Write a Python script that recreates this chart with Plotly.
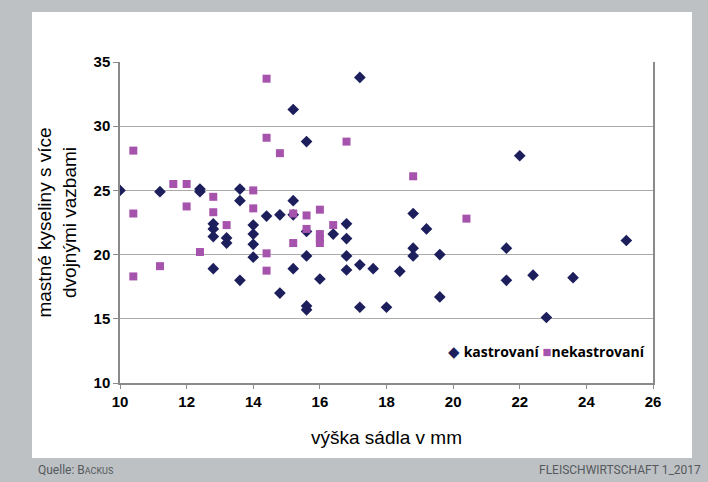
import plotly.graph_objects as go

# kastrovaní (dark diamonds)
kast_x = [10.0, 11.2, 12.4, 12.4, 12.8, 12.8, 12.8, 12.8, 13.2, 13.2, 13.6, 13.6, 13.6,
          14.0, 14.0, 14.0, 14.0, 14.4, 14.8, 14.8, 15.2, 15.2, 15.2, 15.2, 15.6, 15.6,
          15.6, 15.6, 15.6, 16.0, 16.4, 16.8, 16.8, 16.8, 16.8, 17.2, 17.2, 17.2, 17.6,
          18.0, 18.4, 18.8, 18.8, 18.8, 19.2, 19.6, 19.6, 21.6, 21.6, 22.0, 22.4, 22.8,
          23.6, 25.2]
kast_y = [25.0, 24.9, 25.1, 24.9, 22.4, 22.0, 21.4, 18.9, 21.3, 20.9, 25.1, 24.2, 18.0,
          22.3, 21.6, 20.8, 19.8, 23.0, 23.1, 17.0, 31.3, 24.2, 23.1, 18.9, 28.8, 21.8,
          19.9, 16.0, 15.7, 18.1, 21.6, 22.4, 21.25, 19.9, 18.8, 33.8, 19.2, 15.9, 18.9,
          15.9, 18.7, 23.2, 20.5, 19.9, 22.0, 20.0, 16.7, 20.5, 18.0, 27.7, 18.4, 15.1,
          18.2, 21.1]

# nekastrovaní (purple squares)
nek_x = [10.4, 10.4, 10.4, 11.2, 11.6, 12.0, 12.0, 12.4, 12.8, 12.8, 13.2, 14.0, 14.0,
         14.4, 14.4, 14.4, 14.4, 14.8, 15.2, 15.2, 15.6, 15.6, 16.0, 16.0, 16.0, 16.0,
         16.4, 16.8, 18.8, 20.4]
nek_y = [28.1, 23.2, 18.3, 19.1, 25.5, 25.5, 23.75, 20.2, 24.5, 23.3, 22.3, 25.0, 23.6,
         33.7, 29.1, 20.1, 18.75, 27.9, 23.2, 20.9, 23.05, 22.0, 23.5, 21.6, 21.25, 20.9,
         22.3, 28.8, 26.1, 22.8]

series_names = ["kastrovaní", "nekastrovaní"]
x_ticks = [10, 12, 14, 16, 18, 20, 22, 24, 26]
y_ticks = [10, 15, 20, 25, 30, 35]

DARK = "#1d1f5c"
PURPLE = "#a653ad"

fig = go.Figure()
fig.add_trace(go.Scatter(x=kast_x, y=kast_y, mode="markers", name=series_names[0],
                         showlegend=False,
                         marker=dict(symbol="diamond", size=9, color=DARK)))
fig.add_trace(go.Scatter(x=nek_x, y=nek_y, mode="markers", name=series_names[1],
                         showlegend=False,
                         marker=dict(symbol="square", size=8, color=PURPLE)))

# panel geometry in px -> paper
L, R, T, B = 120, 653, 62, 383
W, H = R - L, B - T
def px(x):
    return (x - L) / W
def py(y):
    return (B - y) / H

fig.add_shape(type="rect", xref="paper", yref="paper", layer="below",
              x0=px(32), x1=px(692), y0=py(458), y1=py(12),
              fillcolor="white", line=dict(width=0))

# legend drawn as text
fig.add_annotation(xref="paper", yref="paper", x=px(446), y=py(351), xanchor="left",
                   yanchor="middle", showarrow=False,
                   text=(f"<span style='color:{DARK};font-size:15px'>◆</span> "
                         f"<b>{series_names[0]}</b> "
                         f"<span style='color:{PURPLE};font-size:15px'>■</span>"
                         f"<b>{series_names[1]}</b>"),
                   font=dict(family="Open Sans, sans-serif", size=14, color="black"))

foot_font = dict(family="Liberation Sans Narrow, Roboto, sans-serif", size=12,
                 color="#55595d")
fig.add_annotation(xref="paper", yref="paper", x=px(36), y=py(470), xanchor="left",
                   yanchor="middle", showarrow=False,
                   text="Quelle: B<span style='font-size:9px'>ACKUS</span>",
                   font=foot_font)
fig.add_annotation(xref="paper", yref="paper", x=px(703), y=py(470), xanchor="right",
                   yanchor="middle", showarrow=False, text="FLEISCHWIRTSCHAFT 1_2017",
                   font=foot_font)

fig.update_layout(
    width=708, height=482,
    margin=dict(l=L, r=708 - R, t=T, b=482 - B),
    paper_bgcolor="#bdc1c4", plot_bgcolor="white",
    font=dict(family="Liberation Sans, Arial, sans-serif", color="black"),
    showlegend=False,
    xaxis=dict(range=[10, 26], tickvals=x_ticks, showgrid=False, zeroline=False,
               showline=True, linecolor="#8a8a8a", linewidth=1.5, ticks="outside",
               ticklen=4, tickcolor="#8a8a8a",
               tickfont=dict(size=15, weight="bold", family="Liberation Sans, Arial"),
               title=dict(text="výška sádla v mm", font=dict(size=19), standoff=22)),
    yaxis=dict(range=[10, 35], tickvals=y_ticks, showgrid=True, gridcolor="#ababab",
               gridwidth=1.3, zeroline=False, showline=True, linecolor="#8a8a8a",
               linewidth=1.5, mirror=True, ticks="outside", ticklen=5, tickcolor="#8a8a8a",
               tickfont=dict(size=15, weight="bold", family="Liberation Sans, Arial"),
               title=dict(text="mastné kyseliny s více<br>dvojnými vazbami",
                          font=dict(size=19), standoff=12)),
)

fig.write_html("out.html", post_script="document.body.style.margin='0';",
               config={"displayModeBar": False})
